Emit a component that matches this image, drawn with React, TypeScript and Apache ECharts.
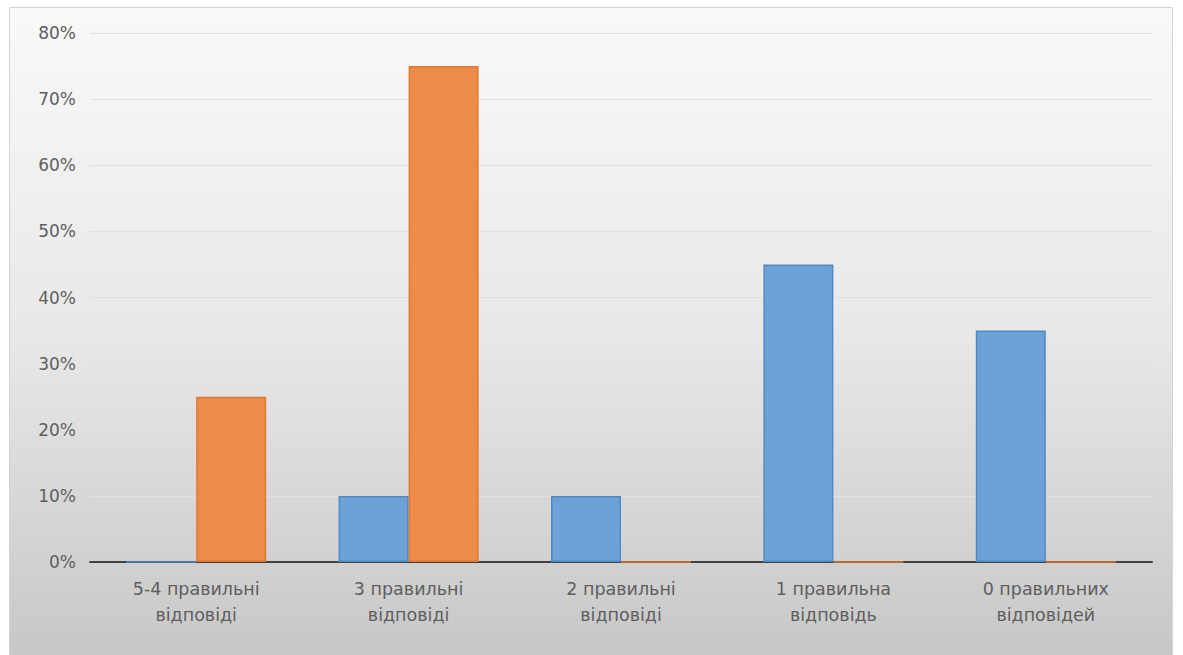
import React, { useEffect, useRef } from "react";
import * as echarts from "echarts";

const categories = [
  "5-4 правильні\nвідповіді",
  "3 правильні\nвідповіді",
  "2 правильні\nвідповіді",
  "1 правильна\nвідповідь",
  "0 правильних\nвідповідей",
];
const seriesBlue = [0, 10, 10, 45, 35];
const seriesOrange = [25, 75, 0, 0, 0];

export default function App() {
  const ref = useRef<HTMLDivElement>(null);
  useEffect(() => {
    if (!ref.current) return;
    const chart = echarts.init(ref.current, null, { renderer: "svg" });
    chart.setOption({
      animation: false,
      backgroundColor: "#ffffff",
      graphic: [
        {
          type: "rect",
          z: -10,
          silent: true,
          shape: { x: 9.5, y: 7.5, width: 1163, height: 660 },
          style: {
            fill: new echarts.graphic.LinearGradient(0, 0, 0, 1, [
              { offset: 0, color: "#f9f9f9" },
              { offset: 0.5, color: "#e8e8e8" },
              { offset: 1, color: "#c6c6c6" },
            ]),
            stroke: "#d4d4d4",
            lineWidth: 1,
          },
        },
      ],
      grid: { left: 90, right: 31, top: 33, bottom: 93 },
      xAxis: {
        type: "category",
        data: categories,
        axisTick: { show: false },
        axisLine: { lineStyle: { color: "#404040", width: 2 } },
        axisLabel: {
          color: "#5f5f5f",
          fontFamily: "DejaVu Sans",
          fontSize: 17.5,
          lineHeight: 26,
          margin: 14,
        },
      },
      yAxis: {
        type: "value",
        min: 0,
        max: 80,
        interval: 10,
        axisLine: { show: false },
        axisTick: { show: false },
        splitLine: { lineStyle: { color: "#e0e0e0", width: 1 } },
        axisLabel: {
          formatter: "{value}%",
          color: "#5f5f5f",
          fontFamily: "DejaVu Sans",
          fontSize: 17,
          margin: 14,
        },
      },
      series: [
        {
          type: "bar",
          data: seriesBlue,
          barWidth: 70,
          barGap: "0%",
          itemStyle: { color: "#6ca2d6", borderColor: "#4f89c6", borderWidth: 1.5 },
        },
        {
          type: "bar",
          data: seriesOrange,
          barWidth: 70,
          barGap: "0%",
          itemStyle: { color: "#ec8c48", borderColor: "#e0782f", borderWidth: 1.5 },
        },
      ],
    });
    return () => chart.dispose();
  }, []);
  return (
    <div
      ref={ref}
      style={{ position: "absolute", left: 0, top: 0, width: 1183, height: 655 }}
    />
  );
}
